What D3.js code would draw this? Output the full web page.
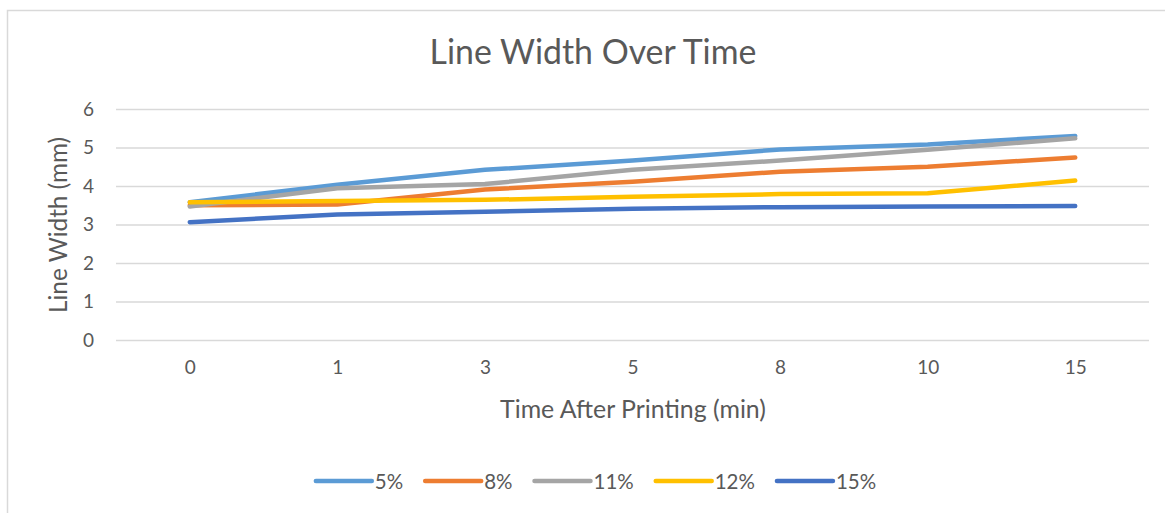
<!DOCTYPE html>
<html>
<head>
<meta charset="utf-8">
<script src="https://cdn.jsdelivr.net/npm/d3@7"></script>
<style>
  html, body { margin: 0; padding: 0; background: #fff; }
  svg { display: block; }
  text { font-family: Lato, "Open Sans", sans-serif; fill: #595959; }
</style>
</head>
<body>
<svg id="chart" width="1165" height="513"></svg>
<script>
// Time points after printing (minutes), shown as categories
const times = ["0", "1", "3", "5", "8", "10", "15"];
const yTicks = [0, 1, 2, 3, 4, 5, 6];

// Measured line width (mm) per ink concentration
const w5  = [3.58, 4.03, 4.42, 4.66, 4.95, 5.08, 5.30];
const w8  = [3.50, 3.52, 3.91, 4.11, 4.37, 4.50, 4.74];
const w11 = [3.47, 3.94, 4.05, 4.42, 4.66, 4.94, 5.24];
const w12 = [3.58, 3.61, 3.64, 3.72, 3.79, 3.81, 4.14];
const w15 = [3.06, 3.26, 3.33, 3.41, 3.45, 3.47, 3.48];

const seriesNames  = ["5%", "8%", "11%", "12%", "15%"];
const seriesValues = [w5, w8, w11, w12, w15];
const seriesColors = ["#5B9BD5", "#ED7D31", "#A5A5A5", "#FFC000", "#4472C4"];

const svg = d3.select("#chart");

// Chart frame
svg.append("rect")
  .attr("x", 7.5).attr("y", 10.5)
  .attr("width", 1300).attr("height", 700)
  .attr("fill", "#fff").attr("stroke", "#d9d9d9").attr("stroke-width", 1.5);

const plot = { left: 116, right: 1149, top: 109, bottom: 340 };

const x = d3.scalePoint()
  .domain(times)
  .range([plot.left, plot.right])
  .padding(0.5);

const y = d3.scaleLinear()
  .domain([0, 6])
  .range([plot.bottom, plot.top]);

// Fit text to a target width
function fit(sel, targetWidth) {
  const node = sel.node();
  const fs = parseFloat(sel.attr("font-size"));
  const w = node.getComputedTextLength();
  sel.attr("font-size", (fs * targetWidth / w).toFixed(2));
  return sel;
}

const tickFont = 19;

// Horizontal gridlines
const yAxis = d3.axisLeft(y).tickValues(yTicks).tickSize(-(plot.right - plot.left)).tickPadding(22).tickFormat(d3.format("d"));
const gy = svg.append("g").attr("transform", `translate(${plot.left},0)`).call(yAxis);
gy.select(".domain").remove();
gy.selectAll(".tick line").attr("stroke", "#d9d9d9").attr("stroke-width", 1.5);
gy.selectAll(".tick text")
  .attr("font-size", tickFont).attr("fill", "#595959")
  .style("font-family", "Lato, 'Open Sans', sans-serif");

// Category axis labels
const xAxis = d3.axisBottom(x).tickSize(0).tickPadding(21);
const gx = svg.append("g").attr("transform", `translate(0,${plot.bottom})`).call(xAxis);
gx.select(".domain").remove();
gx.selectAll(".tick text")
  .attr("font-size", tickFont).attr("fill", "#595959")
  .style("font-family", "Lato, 'Open Sans', sans-serif");

// Series lines
const line = d3.line()
  .x((d, i) => x(times[i]))
  .y(d => y(d));

seriesValues.forEach((vals, k) => {
  svg.append("path")
    .datum(vals)
    .attr("d", line)
    .attr("fill", "none")
    .attr("stroke", seriesColors[k])
    .attr("stroke-width", 4.5)
    .attr("stroke-linecap", "round")
    .attr("stroke-linejoin", "round");
});

// Title
fit(svg.append("text")
  .attr("x", 593).attr("y", 64)
  .attr("text-anchor", "middle")
  .attr("font-size", 30)
  .text("Line Width Over Time"), 327);

// Axis titles
fit(svg.append("text")
  .attr("transform", "translate(67,225) rotate(-90)")
  .attr("text-anchor", "middle")
  .attr("font-size", 19)
  .text("Line Width (mm)"), 176);

fit(svg.append("text")
  .attr("x", 633).attr("y", 418)
  .attr("text-anchor", "middle")
  .attr("font-size", 19)
  .text("Time After Printing (min)"), 266);

// Legend
const legend = svg.append("g");
let cursor = 0;
seriesNames.forEach((name, k) => {
  const item = legend.append("g").attr("transform", `translate(${cursor},0)`);
  item.append("line")
    .attr("x1", 0).attr("x2", 56).attr("y1", 0).attr("y2", 0)
    .attr("stroke", seriesColors[k]).attr("stroke-width", 4.5)
    .attr("stroke-linecap", "round");
  const t = item.append("text")
    .attr("x", 59).attr("y", 7.5)
    .attr("font-size", 20.5)
    .text(name);
  cursor += 59 + t.node().getComputedTextLength() + 22;
});
const legendWidth = cursor - 22;
legend.attr("transform", `translate(${596 - legendWidth / 2},481)`);
</script>
</body>
</html>
